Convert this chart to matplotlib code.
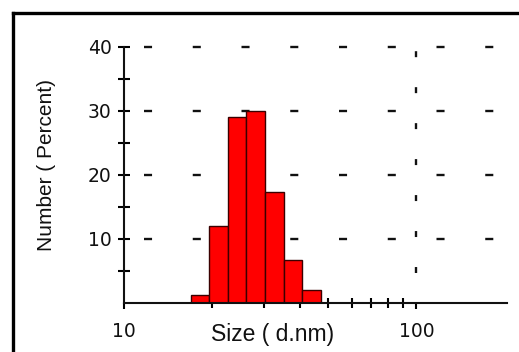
import numpy as np
import matplotlib.pyplot as plt
from matplotlib.lines import Line2D
from matplotlib.ticker import FixedLocator, NullFormatter

plt.rcParams['font.family'] = ['Liberation Sans', 'DejaVu Sans']
plt.rcParams['lines.scale_dashes'] = False

# size classes (d.nm) and number distribution (%)
sizes = [18.17, 21.04, 24.36, 28.21, 32.67, 37.84, 43.82]
number_pct = [1.2, 12.0, 29.1, 30.0, 17.4, 6.7, 2.0]
x_major = [10, 100]
x_labels = ['10', '100']
x_minor = [20, 30, 40, 50, 60, 70, 80, 90]
y_major = [10, 20, 30, 40]
y_labels = ['10', '20', '30', '40']
y_minor = [5, 15, 25, 35]

# bar edges half way (in log) between neighbouring size classes
s = np.array(sizes)
ratio = s[1:] / s[:-1]
edges = np.concatenate([[s[0] / np.sqrt(ratio[0])], np.sqrt(s[1:] * s[:-1]), [s[-1] * np.sqrt(ratio[-1])]])

fig = plt.figure(figsize=(5.19, 3.52), dpi=100)
ax = fig.add_axes([124/519, 1-303/352, (507-124)/519, (303-47)/352])
ax.set_xscale('log')
ax.set_xlim(10, 204)
ax.set_ylim(0, 40)

ax.bar(edges[:-1], number_pct, width=np.diff(edges), align='edge',
       color='#ff0000', edgecolor='#3a0000', linewidth=1.0, zorder=2)

# sparse dashed grid
for yv in y_major:
    ax.axhline(yv, color='#111111', lw=1.7, linestyle=(20.7, (5.8, 29.3)), zorder=1, clip_on=False)
ax.axvline(100, color='#111111', lw=1.7, linestyle=(4.3, (4.3, 21.6)), zorder=1, clip_on=False)

ax.set_axisbelow(True)
for side in ['top', 'right']:
    ax.spines[side].set_visible(False)
for side in ['left', 'bottom']:
    ax.spines[side].set_linewidth(1.5)
    ax.spines[side].set_color('#111111')

ax.xaxis.set_minor_locator(FixedLocator(x_minor))
ax.xaxis.set_minor_formatter(NullFormatter())
ax.set_xticks(x_major)
ax.set_xticklabels(x_labels, fontsize=13.5, family='DejaVu Sans', color='#111111')
ax.set_yticks(y_major)
ax.set_yticklabels(y_labels, fontsize=13.5, family='DejaVu Sans', color='#111111')
ax.yaxis.set_minor_locator(FixedLocator(y_minor))

ax.tick_params(axis='x', which='major', direction='out', length=4, width=1.5, pad=10)
ax.tick_params(axis='x', which='minor', direction='inout', length=7, width=1.5)
ax.tick_params(axis='y', which='both', direction='inout', length=8, width=1.5, pad=5)

fig.text(273/519, 1-335/352, 'Size ( d.nm)', ha='center', va='center', fontsize=16.5, color='#111111')
fig.text(47/519, 1-165/352, 'Number ( Percent)', ha='center', va='center', rotation=90,
         fontsize=15, color='#111111')

# outer frame (left and top edges)
fig.add_artist(Line2D([13/519, 13/519], [0, 1-13/352], transform=fig.transFigure, color='black', lw=2.4))
fig.add_artist(Line2D([13/519, 1], [1-13/352, 1-13/352], transform=fig.transFigure, color='black', lw=2.4))

fig.savefig('out.png', dpi=100)
